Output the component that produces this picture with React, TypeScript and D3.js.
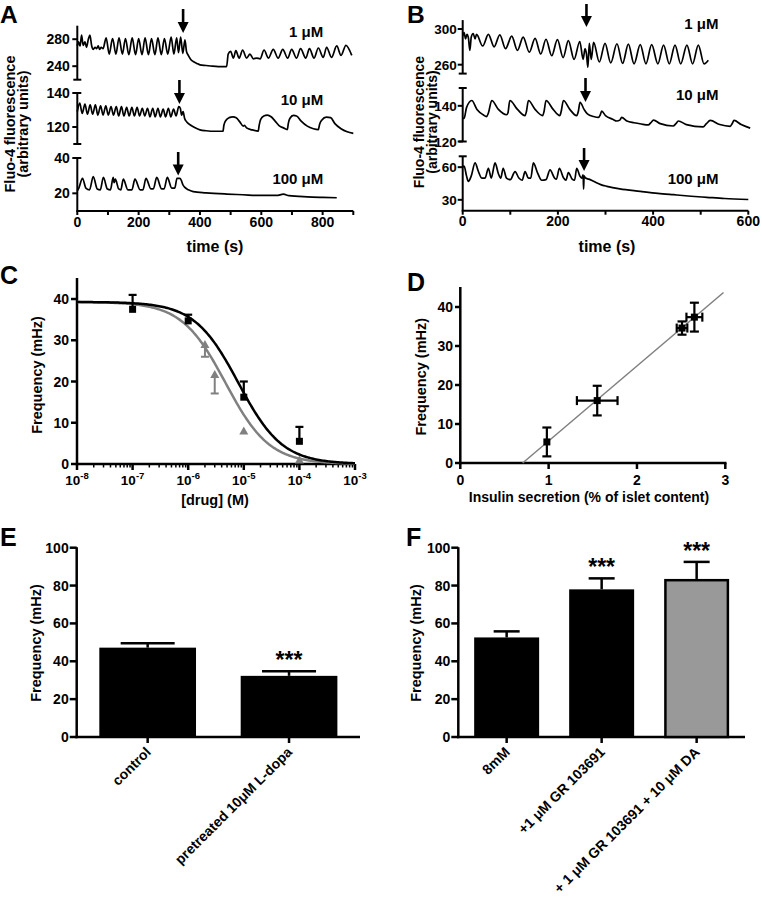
import React, { useEffect, useRef } from 'react';
import * as d3 from 'd3';

type Pt = [number, number];

// ---------------- Panel A traces: [time (s), Fluo-4 fluorescence] ----------------
const A_1uM: Pt[] = [
  [0, 270], [4, 276], [9, 270], [14, 286], [19, 271], [25, 276], [30, 268], [36, 280], [41, 286], [47, 270],
  [52, 265], [58, 268], [63, 266], [68, 270], [73, 265], [78, 268], [84, 266], [94, 282], [104, 258], [115, 281],
  [126, 258], [136, 282], [147, 258], [157, 281], [168, 257], [179, 282], [190, 257], [200, 281], [211, 257], [221, 282],
  [232, 257], [242, 281], [253, 257], [263, 282], [274, 257], [284, 281], [295, 258], [306, 283], [315, 258], [324, 282],
  [330, 260], [337, 283], [344, 259], [351, 279], [356, 262], [362, 256], [370, 250], [378, 247], [390, 244], [400, 242],
  [420, 241], [440, 240], [460, 239.5], [487, 239.5], [492, 258], [500, 262], [509, 252], [517, 263], [528, 252], [539, 264],
  [552, 252], [563, 258], [574, 251], [585, 252], [596, 251], [609, 264], [623, 252], [639, 265], [655, 252], [670, 265],
  [686, 252], [699, 265], [715, 252], [728, 266], [745, 252], [757, 266], [772, 252], [786, 267], [802, 253], [813, 268],
  [829, 253], [846, 270], [860, 256], [876, 271], [895, 256],
];
const A_10uM: Pt[] = [
  [0, 129], [8, 134], [16, 128], [25, 133.5], [33, 127.5], [42, 133], [50, 127.5], [59, 133], [67, 127], [76, 132.5],
  [84, 127], [93, 132.5], [101, 127], [110, 132], [118, 127], [127, 132], [135, 126.5], [144, 132], [152, 126.5], [161, 131.5],
  [169, 126.5], [178, 131.5], [186, 126.5], [195, 131.5], [203, 126.5], [212, 131], [220, 126.5], [229, 131], [237, 126], [246, 131],
  [254, 126], [263, 131], [271, 126], [280, 130.5], [288, 126], [297, 131], [305, 126], [314, 130.5], [322, 126.5], [331, 132],
  [336, 131], [340, 127], [345, 129], [350, 125], [357, 123], [370, 121], [385, 119.5], [400, 118.3], [420, 117.8], [450, 117.5],
  [475, 117.5], [478, 121], [485, 124], [495, 125.5], [508, 126], [518, 125.5], [530, 123], [541, 120.5], [545, 121], [552, 119.5],
  [570, 118.3], [590, 117.6], [593, 121], [598, 124.5], [608, 126.5], [620, 127], [632, 126], [645, 123.5], [660, 120.5], [672, 119.5],
  [685, 118.5], [688, 122], [693, 125], [705, 126.8], [715, 126.5], [730, 123.5], [750, 120.5], [770, 119], [786, 118.5], [790, 121.5],
  [797, 124], [812, 125.8], [826, 125.5], [840, 122], [860, 119], [880, 117.2], [900, 116.3],
];
const A_100uM: Pt[] = [
  [0, 21.5], [5, 23], [17, 28.5], [28, 23], [40, 22], [52, 29.5], [65, 22.5], [75, 22], [85, 29], [98, 22.5],
  [108, 22], [117, 29], [120, 26], [124, 28], [135, 22.5], [142, 22], [150, 28], [165, 22], [178, 22], [188, 28],
  [205, 22], [214, 22], [224, 28.5], [240, 22.5], [248, 22.5], [259, 29], [275, 22.5], [283, 22.5], [293.5, 29], [308, 23],
  [318, 23], [325, 28.5], [335, 28.5], [340, 27], [344, 25], [350, 23.5], [362, 22], [378, 21], [420, 20.3], [487, 19.6],
  [540, 19.2], [596, 18.8], [650, 18.8], [672, 19.5], [690, 18.7], [750, 18], [800, 17.7], [846, 17.5],
];

// ---------------- Panel B traces ----------------
const B_1uM: Pt[] = [
  [0, 292], [3, 296], [6, 289], [9, 294], [12, 290], [15, 276], [18, 291], [22, 295], [26, 289], [29, 294],
  [42, 281], [54, 294], [66, 280], [78, 293.5], [90, 278], [103, 292], [115, 276], [127, 291], [140, 274], [152, 289.5],
  [164, 272], [175, 288.5], [187, 270], [199, 288], [211, 268], [222, 287], [234, 266], [246, 286], [253, 266], [257, 278],
  [260, 272], [263, 257], [266, 284], [270, 266], [275, 285], [287, 263], [299, 284], [311, 262], [324, 283.5], [336, 261.5],
  [348, 283], [360, 261], [373, 282.5], [385, 261], [397, 282.5], [410, 261], [422, 282], [434, 261], [446, 282], [458, 261],
  [471, 282], [483, 261], [495, 282], [507, 261], [516, 265],
];
const B_10uM: Pt[] = [
  [0, 133], [3, 133], [8, 139], [19, 143], [30, 138], [43, 135], [50, 134], [54, 136], [61, 143], [75, 138],
  [92, 135], [95, 136], [99, 143], [115, 138], [131, 134.5], [134, 137], [138, 143], [152, 138], [168, 134.5], [171, 137],
  [175, 143], [190, 138], [204, 134.5], [207, 137], [211.5, 143], [225, 138], [239.5, 134.5], [243, 137], [246.5, 142], [255, 138],
  [262, 135.5], [275, 134], [285, 133.5], [289, 135], [292, 137], [300, 134.5], [315, 132.5], [324, 131.5], [330, 132], [334, 133.5],
  [345, 131.5], [360, 130.5], [375, 129.8], [390, 129.3], [395, 130.5], [401, 132], [415, 130], [442, 128.7], [448, 130], [453, 131.5],
  [470, 129.5], [505, 128.2], [512, 130], [520, 131.8], [540, 129.5], [562, 128.5], [566, 130], [570, 131.8], [585, 129.5], [604, 127.5],
];
const B_100uM: Pt[] = [
  [0, 60], [3, 61], [8, 52], [12, 47], [18, 52], [26, 64], [33, 56], [40, 50], [47, 50], [54, 59],
  [60, 50], [68, 64], [75, 54], [80, 50], [85, 59], [92, 50], [100, 48.5], [110, 56], [118, 50], [125, 48],
  [131, 56], [138, 50], [143, 50], [148.5, 64], [157, 55], [166, 48], [175, 48.5], [183.5, 57.5], [193, 50], [197, 49],
  [203, 59], [212, 50], [217, 48], [222, 55], [230, 49], [235, 48], [239.5, 59], [246, 52], [250, 50], [253, 53],
  [254, 40], [255, 52], [258, 50], [265, 49], [275, 47], [290, 44], [303, 42.4], [330, 40], [373, 37.8], [410, 36],
  [443, 34.7], [480, 33.3], [513, 32.3], [550, 31.2], [600, 30.3],
];

const concLabels = ['1 μM', '10 μM', '100 μM'];
const A_yDomains: Pt[] = [[220, 300], [110, 140], [10, 40]];
const B_yDomains: Pt[] = [[250, 310], [120, 150], [20, 70]];
const A_yTicks = [[240, 280], [120, 140], [20, 40]];
const B_yTicks = [[260, 300], [120, 140], [30, 60]];
const A_arrowTimes = [345, 333, 329];
const B_arrowTimes = [260, 258, 255];
const A_xMax = 900;
const B_xMax = 600;
const A_xLabels = [0, 200, 400, 600, 800];
const B_xLabels = [0, 200, 400, 600];

// ---------------- Panel C ----------------
const C_blackConc = [1e-7, 1e-6, 1e-5, 1e-4];
const C_blackFreq = [37.5, 34.7, 16.2, 5.5];
const C_blackErr = [3.5, 1.5, 3.8, 3.5];
const C_grayConc = [2e-6, 3e-6, 1e-5, 1e-4];
const C_grayFreq = [29, 21.7, 8, 1];
const C_grayErr = [3, 4.6, 0, 0];
const C_fitTop = 39.3;
const C_blackIC50 = 8e-6;
const C_grayIC50 = 4.7e-6;
const C_hill = 1.1;
const C_yTicks = [0, 10, 20, 30, 40];
const C_decades = [-8, -7, -6, -5, -4, -3];

// ---------------- Panel D ----------------
const D_insulin = [0.98, 1.55, 2.51, 2.65];
const D_insulinErr = [0, 0.23, 0.06, 0.09];
const D_freq = [5.4, 16.0, 34.6, 37.4];
const D_freqErr = [3.7, 3.8, 1.7, 3.7];
const D_slope = 19.22;
const D_intercept = -13.57;
const D_fitEnd = 2.98;
const D_xTicks = [0, 1, 2, 3];
const D_yTicks = [0, 10, 20, 30, 40];

// ---------------- Panels E & F ----------------
const E_groups = ['control', 'pretreated 10μM L-dopa'];
const E_freq = [47.2, 32.3];
const E_err = [2.3, 2.4];
const E_sig = ['', '***'];
const F_groups = ['8mM', '+1 μM GR 103691', '+ 1 μM GR 103691 + 10 μM DA'];
const F_freq = [52.6, 78.0, 83.5];
const F_err = [3.2, 5.8, 9.0];
const F_sig = ['', '***', '***'];
const F_fill = ['#000000', '#000000', '#999999'];
const EF_yTicks = [0, 20, 40, 60, 80, 100];

export default function App() {
  const ref = useRef<SVGSVGElement | null>(null);

  useEffect(() => {
    if (!ref.current) return;
    const svg = d3.select(ref.current);
    svg.selectAll('*').remove();
    const FONT = "'Liberation Sans', Arial, Helvetica, sans-serif";
    const TICK = 14;

    const text = (x: number, y: number, s: string, size: number, anchor = 'start', weight = 'bold') =>
      svg.append('text').attr('x', x).attr('y', y).attr('font-family', FONT).attr('font-size', size)
        .attr('font-weight', weight).attr('text-anchor', anchor).attr('fill', '#000').text(s);
    const rtext = (x: number, y: number, s: string, size: number, angle: number, anchor = 'middle') =>
      svg.append('text').attr('transform', `translate(${x},${y}) rotate(${angle})`).attr('font-family', FONT)
        .attr('font-size', size).attr('font-weight', 'bold').attr('text-anchor', anchor).attr('fill', '#000').text(s);
    const seg = (x1: number, y1: number, x2: number, y2: number, w = 2, c = '#000') =>
      svg.append('line').attr('x1', x1).attr('y1', y1).attr('x2', x2).attr('y2', y2)
        .attr('stroke', c).attr('stroke-width', w);
    const arrow = (x: number, y0: number, y1: number) => {
      seg(x, y0, x, y1 - 9, 2.6);
      svg.append('path').attr('d', `M${x - 5.5},${y1 - 11}L${x + 5.5},${y1 - 11}L${x},${y1}Z`).attr('fill', '#000');
    };

    // Panel letters
    text(0, 23, 'A', 24.5);
    text(407, 23, 'B', 24.5);
    text(0, 284, 'C', 25);
    text(407, 291, 'D', 25);
    text(0, 546, 'E', 25);
    text(406, 546, 'F', 25);

    // ---------- trace panels ----------
    const tracePanel = (cfg: any) => {
      const xs = d3.scaleLinear().domain([0, cfg.xMax]).range([cfg.x0, cfg.x1]);
      cfg.rows.forEach((r: any, i: number) => {
        const ys = d3.scaleLinear().domain(r.domain).range(r.range);
        seg(cfg.x0, r.range[0], cfg.x0, r.range[1], 2);
        if (i < cfg.rows.length - 1) seg(cfg.x0 - 4, r.range[0], cfg.x0 + 4, r.range[0], 2);
        if (i > 0) seg(cfg.x0 - 4, r.range[1], cfg.x0 + 4, r.range[1], 2);
        r.ticks.forEach((t: number) => {
          seg(cfg.x0 - 5, ys(t), cfg.x0, ys(t), 2);
          text(cfg.x0 - cfg.tickGap, ys(t) + 5, String(t), cfg.tickSize, 'end');
        });
        const ln = d3.line<Pt>().x(d => xs(d[0])).y(d => ys(d[1])).curve(d3.curveMonotoneX);
        svg.append('path').attr('d', ln(r.data) as string).attr('fill', 'none')
          .attr('stroke', '#000').attr('stroke-width', 1.7).attr('stroke-linejoin', 'round');
        text(cfg.labelRight, r.labelY, r.label, 15, 'end');
        arrow(xs(r.arrowT), r.arrowY[0], r.arrowY[1]);
      });
      seg(cfg.x0 - 1, cfg.axisY, cfg.x1, cfg.axisY, 2);
      d3.range(0, cfg.xMax + 1, 100).forEach((t: number) => seg(xs(t), cfg.axisY, xs(t), cfg.axisY + 4, 2));
      cfg.xLabels.forEach((t: number) => text(xs(t), cfg.axisY + 15.5, String(t), TICK, 'middle'));
      text(cfg.titleX, 252, 'time (s)', 16, 'middle');
      rtext(cfg.yt1, cfg.ytY, 'Fluo-4 fluorescence', cfg.ytSize, -90);
      rtext(cfg.yt2, cfg.ytY, '(arbitrary units)', cfg.ytSize, -90);
    };

    const aData = [A_1uM, A_10uM, A_100uM];
    const aRanges: Pt[] = [[79.7, 25.7], [144, 93], [211, 158]];
    const aLabelY = [37, 105, 183.5];
    const aArrowY: Pt[] = [[9, 33], [80, 104], [152, 175.5]];
    tracePanel({
      x0: 77.3, x1: 353.3, xMax: A_xMax, axisY: 211, xLabels: A_xLabels, labelRight: 323.3,
      titleX: 215, yt1: 14.5, yt2: 28, ytY: 124, ytSize: 14.5, tickSize: 14, tickGap: 7.5,
      rows: aData.map((d, i) => ({
        data: d, domain: A_yDomains[i], range: aRanges[i], ticks: A_yTicks[i], label: concLabels[i],
        labelY: aLabelY[i], arrowT: A_arrowTimes[i], arrowY: aArrowY[i],
      })),
    });

    const bData = [B_1uM, B_10uM, B_100uM];
    const bRanges: Pt[] = [[73.6, 20.1], [141.5, 88], [210.7, 156.3]];
    const bLabelY = [29, 100, 184];
    const bArrowY: Pt[] = [[4, 27], [78, 102], [148, 171]];
    tracePanel({
      x0: 462.7, x1: 748.3, xMax: B_xMax, axisY: 210.7, xLabels: B_xLabels, labelRight: 718.5,
      titleX: 607, yt1: 424, yt2: 436.5, ytY: 122, ytSize: 14, tickSize: 13.5, tickGap: 6,
      rows: bData.map((d, i) => ({
        data: d, domain: B_yDomains[i], range: bRanges[i], ticks: B_yTicks[i], label: concLabels[i],
        labelY: bLabelY[i], arrowT: B_arrowTimes[i], arrowY: bArrowY[i],
      })),
    });

    // ---------- Panel C ----------
    {
      const xC = d3.scaleLog().domain([1e-8, 1e-3]).range([77, 355]);
      const yC = d3.scaleLinear().domain([0, 45]).range([464, 278.4]);
      seg(77, 278, 77, 465.2, 2.5);
      seg(75.8, 464, 355, 464, 2.5);
      C_yTicks.forEach(t => {
        seg(71, yC(t), 77, yC(t), 2.5);
        text(69, yC(t) + 5, String(t), TICK, 'end');
      });
      C_decades.forEach(d => {
        const x = xC(Math.pow(10, d));
        seg(x, 464, x, 470, 2.5);
        const t = svg.append('text').attr('x', x).attr('y', 484.5).attr('font-family', FONT)
          .attr('font-size', 13.5).attr('font-weight', 'bold').attr('text-anchor', 'middle');
        t.append('tspan').text('10');
        t.append('tspan').attr('dy', -5.5).attr('font-size', 9.5).text(String(d));
        if (d < -3) {
          for (let m = 2; m <= 9; m++) {
            const xm = xC(m * Math.pow(10, d));
            seg(xm, 464, xm, 467.5, 1.5);
          }
        }
      });
      text(215, 505, '[drug] (M)', 14.5, 'middle');
      rtext(41.5, 375, 'Frequency (mHz)', 14.5, -90);

      const samples = d3.range(0, 201).map(i => Math.pow(10, -8 + (5 * i) / 200));
      const hill = (ic50: number) => (c: number) => C_fitTop / (1 + Math.pow(c / ic50, C_hill));
      const curve = (ic50: number, color: string) => {
        const f = hill(ic50);
        const ln = d3.line<number>().x(c => xC(c)).y(c => yC(f(c)));
        svg.append('path').attr('d', ln(samples) as string).attr('fill', 'none')
          .attr('stroke', color).attr('stroke-width', 2.5);
      };
      curve(C_grayIC50, '#808080');
      curve(C_blackIC50, '#000');

      C_grayConc.forEach((c, i) => {
        const x = xC(c), y = yC(C_grayFreq[i]);
        if (C_grayErr[i] > 0) {
          const ye = yC(C_grayFreq[i] - C_grayErr[i]);
          seg(x, y, x, ye, 2, '#808080');
          seg(x - 4, ye, x + 4, ye, 2, '#808080');
        }
        svg.append('path').attr('d', `M${x},${y - 4.5}L${x + 4.5},${y + 3.5}L${x - 4.5},${y + 3.5}Z`).attr('fill', '#808080');
      });
      C_blackConc.forEach((c, i) => {
        const x = xC(c), y = yC(C_blackFreq[i]);
        const ye = yC(C_blackFreq[i] + C_blackErr[i]);
        seg(x, y, x, ye, 2.2);
        seg(x - 4, ye, x + 4, ye, 2.2);
        svg.append('rect').attr('x', x - 3.5).attr('y', y - 3.5).attr('width', 7).attr('height', 7).attr('fill', '#000');
      });
    }

    // ---------- Panel D ----------
    {
      const xD = d3.scaleLinear().domain([0, 3]).range([460.3, 725.3]);
      const yD = d3.scaleLinear().domain([0, 45]).range([463, 287.5]);
      seg(460.3, 287, 460.3, 464.2, 2.5);
      seg(459, 463, 726.5, 463, 2.5);
      D_yTicks.forEach(t => {
        seg(455, yD(t), 460.3, yD(t), 2.5);
        text(453, yD(t) + 5, String(t), TICK, 'end');
      });
      D_xTicks.forEach(t => {
        seg(xD(t), 463, xD(t), 469, 2.5);
        text(xD(t), 484.5, String(t), TICK, 'middle');
      });
      text(589, 502, 'Insulin secretion (% of islet content)', 14, 'middle');
      rtext(426, 376.7, 'Frequency (mHz)', 14.5, -90);
      const x0 = -D_intercept / D_slope;
      seg(xD(x0), yD(0), xD(D_fitEnd), yD(D_slope * D_fitEnd + D_intercept), 1.5, '#808080');
      D_insulin.forEach((xv, i) => {
        const x = xD(xv), y = yD(D_freq[i]);
        const yt = yD(D_freq[i] + D_freqErr[i]), yb = yD(D_freq[i] - D_freqErr[i]);
        seg(x, yt, x, yb, 2.2);
        seg(x - 4.5, yt, x + 4.5, yt, 2.2);
        seg(x - 4.5, yb, x + 4.5, yb, 2.2);
        if (D_insulinErr[i] > 0) {
          const xl = xD(xv - D_insulinErr[i]), xr = xD(xv + D_insulinErr[i]);
          seg(xl, y, xr, y, 2.2);
          seg(xl, y - 4.5, xl, y + 4.5, 2.2);
          seg(xr, y - 4.5, xr, y + 4.5, 2.2);
        }
        svg.append('rect').attr('x', x - 3.5).attr('y', y - 3.5).attr('width', 7).attr('height', 7).attr('fill', '#000');
      });
    }

    // ---------- Bar panels E & F ----------
    const barPanel = (cfg: any) => {
      const yS = d3.scaleLinear().domain([0, 100]).range([737, 547.7]);
      const xS = d3.scaleBand<string>().domain(cfg.groups).range([cfg.x0, cfg.x1])
        .paddingInner(0.316).paddingOuter(cfg.po);
      seg(cfg.x0, 547.2, cfg.x0, 738.2, 2.5);
      seg(cfg.x0 - 1.2, 737, cfg.x1, 737, 2.5);
      EF_yTicks.forEach(t => {
        seg(cfg.x0 - 7, yS(t), cfg.x0, yS(t), 2.5);
        text(cfg.x0 - 8, yS(t) + 5, String(t), TICK, 'end');
      });
      cfg.groups.forEach((g: string, i: number) => {
        const bx = xS(g) as number, bw = xS.bandwidth(), cx = bx + bw / 2;
        const top = yS(cfg.vals[i]);
        const ye = yS(cfg.vals[i] + cfg.errs[i]);
        seg(cx, top, cx, ye, 2.5);
        seg(cx - cfg.capW / 2, ye, cx + cfg.capW / 2, ye, 2.5);
        const gray = cfg.fills[i] !== '#000000';
        svg.append('rect').attr('x', gray ? bx + 1.25 : bx).attr('y', gray ? top + 1.25 : top)
          .attr('width', gray ? bw - 2.5 : bw).attr('height', gray ? 737 - top - 1.25 : 737 - top)
          .attr('fill', cfg.fills[i]).attr('stroke', gray ? '#000' : 'none').attr('stroke-width', 2.5);
        seg(cx, 737, cx, 743, 2.5);
        rtext(cx + 4, 753, g, 14, -45, 'end');
        if (cfg.sig[i]) text(cx, ye - 3, cfg.sig[i], 23, 'middle');
      });
      rtext(cfg.ytX, 643, 'Frequency (mHz)', 14.5, -90);
    };
    barPanel({
      groups: E_groups, vals: E_freq, errs: E_err, sig: E_sig, fills: ['#000000', '#000000'],
      x0: 76.7, x1: 360, po: 0.16, capW: 54, ytX: 40.5,
    });
    barPanel({
      groups: F_groups, vals: F_freq, errs: F_err, sig: F_sig, fills: F_fill,
      x0: 458.3, x1: 745, po: 0.167, capW: 26, ytX: 420.5,
    });
  }, []);

  return (
    <svg ref={ref} width={762} height={900}
      style={{ position: 'absolute', left: 0, top: 0, background: '#fff' }} />
  );
}
